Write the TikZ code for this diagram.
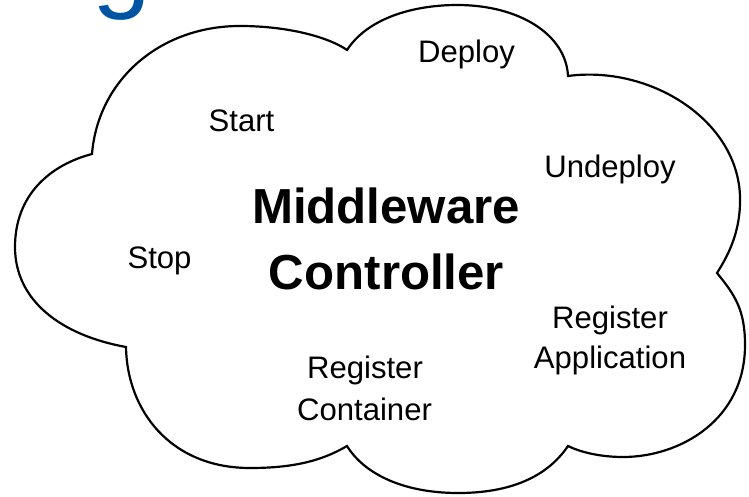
\documentclass[tikz,border=0pt]{standalone}
\usepackage{fontspec}
\setmainfont{Liberation Sans}
\definecolor{titleblue}{RGB}{0,84,164}
\begin{document}
\begin{tikzpicture}[x=0.02cm,y=-0.02cm,
  lbl/.style={anchor=base,inner sep=0pt,font=\fontsize{17.7}{21}\selectfont},
  big/.style={anchor=base,inner sep=0pt,font=\fontsize{28}{33}\selectfont\bfseries},
  cloudline/.style={draw=black,line width=1.25pt,line join=miter}]
\useasboundingbox (0,0) rectangle (749,496);
% fragment of a title letter above
\node[anchor=base west,inner sep=0pt,text=titleblue,font=\fontsize{60}{70}\selectfont] (title) at (92,-1) {g};
% cloud cusps
\coordinate (c1) at (92,154);
\coordinate (c2) at (347,50);
\coordinate (c3) at (568,76);
\coordinate (c4) at (717,273);
\coordinate (c5) at (568,446);
\coordinate (c6) at (347,446);
\coordinate (c7) at (126,347);
\draw[cloudline]
  (c1) .. controls (98,80) and (160,26) .. (240,26)
       .. controls (290,26) and (330,38) .. (c2)
       .. controls (370,15) and (420,5) .. (457,5)
       .. controls (520,5) and (566,35) .. (c3)
       .. controls (650,65) and (738,120) .. (740,197)
       .. controls (741,235) and (725,260) .. (c4)
       .. controls (735,295) and (745,310) .. (745,345)
       .. controls (745,420) and (680,457) .. (623,457)
       .. controls (600,457) and (580,452) .. (c5)
       .. controls (545,480) and (505,493) .. (458,493)
       .. controls (405,493) and (365,475) .. (c6)
       .. controls (320,462) and (290,468) .. (250,468)
       .. controls (170,468) and (127,410) .. (c7)
       .. controls (60,335) and (15,300) .. (15,247)
       .. controls (15,195) and (50,165) .. (c1) -- cycle;
% labels
\node[lbl] (deploy) at (466.5,63) {Deploy};
\node[lbl] (start) at (241.5,132) {Start};
\node[lbl] (undeploy) at (610,178) {Undeploy};
\node[lbl] (stop) at (159.5,268) {Stop};
\node[big] (mw) at (386,224) {Middleware};
\node[big] (ctl) at (386.5,289) {Controller};
\node[lbl] (regapp) at (610,328) {Register};
\node[lbl] (app) at (610,368) {Application};
\node[lbl] (regcon) at (365,378) {Register};
\node[lbl] (con) at (364.5,420) {Container};
\end{tikzpicture}
\end{document}
